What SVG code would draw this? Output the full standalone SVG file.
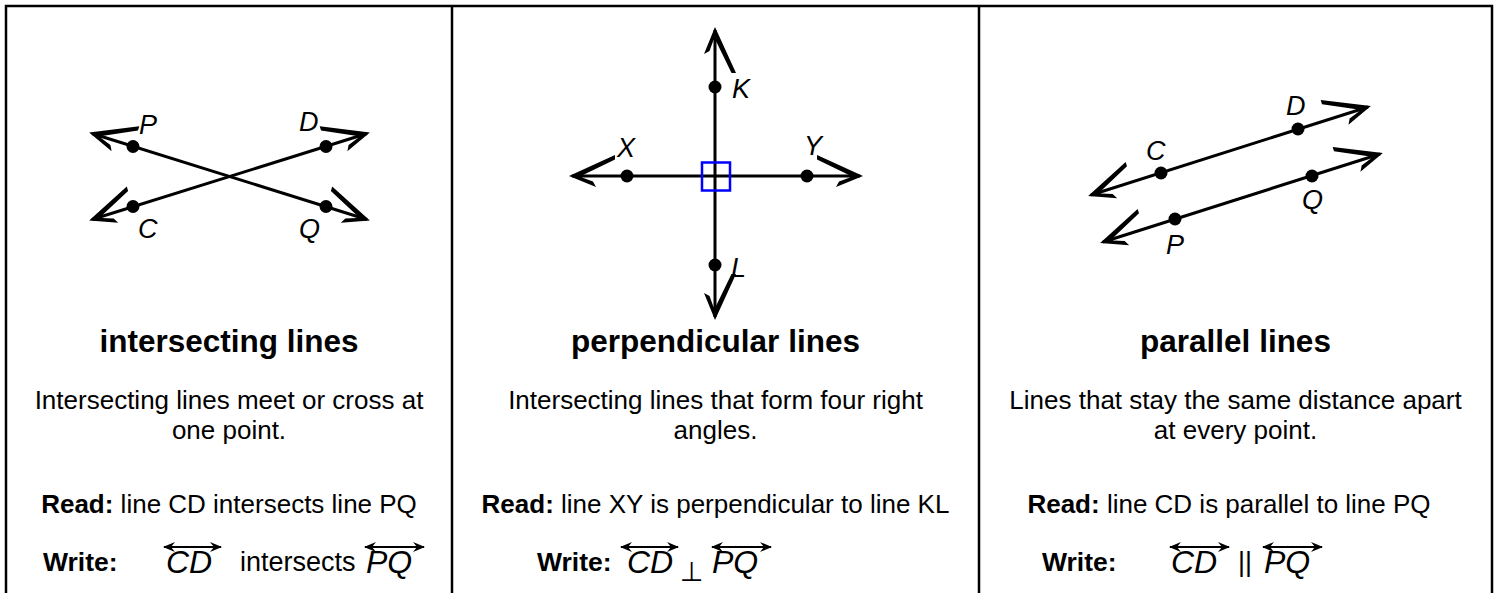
<svg xmlns="http://www.w3.org/2000/svg" width="1499" height="593" viewBox="0 0 1499 593">
<style>
.ln{stroke:#000;stroke-width:3;fill:none}
.frame{stroke:#000;stroke-width:2.5;fill:none}
.dot{fill:#000}
.lbl{font-family:"Liberation Sans",Arial,sans-serif;font-style:italic;font-size:27px;fill:#000}
.title{font-family:"Liberation Sans",Arial,sans-serif;font-weight:bold;font-size:31.5px;fill:#000;text-anchor:middle}
.body{font-family:"Liberation Sans",Arial,sans-serif;font-size:26px;fill:#000;text-anchor:middle}
.b{font-weight:bold}
.wr{font-family:"Liberation Sans",Arial,sans-serif;font-weight:bold;font-size:26.5px;fill:#000}
.sym{font-family:"Liberation Sans",Arial,sans-serif;font-style:italic;font-size:32px;fill:#000}
.txt{font-family:"Liberation Sans",Arial,sans-serif;font-size:27px;fill:#000}
.ov{stroke:#000;stroke-width:2;fill:none;marker-start:url(#sm);marker-end:url(#sm)}
</style>
<defs>
<path id="hL" d="M3,0 L-43,-21 L-43,-16.5 L-10,-0.5 L-10,1.5 L-21,5.5 L-24,11 Z" fill="#000"/>
<path id="hR" d="M3,0 L-43,21 L-43,16.5 L-10,0.5 L-10,-1.5 L-21,-5.5 L-24,-11 Z" fill="#000"/>
<marker id="sm" viewBox="-12 -6 14 12" refX="0" refY="0" markerWidth="14" markerHeight="12" markerUnits="userSpaceOnUse" orient="auto-start-reverse">
<path d="M1,0 L-11,-5 L-7,0 L-11,5 Z" fill="#000"/>
</marker>
</defs>

<g id="frame">
<path class="frame" d="M6,600 V6 H1492 V600"/>
<line class="frame" x1="452" y1="6" x2="452" y2="600"/>
<line class="frame" x1="979" y1="6" x2="979" y2="600"/>
</g>

<g id="connectors">
<line class="ln" x1="92" y1="133.5" x2="367" y2="219.5"/>
<line class="ln" x1="92" y1="219.5" x2="367" y2="133.5"/>
<use href="#hR" transform="translate(92,133.5) rotate(197.37)"/>
<use href="#hL" transform="translate(367,219.5) rotate(17.37)"/>
<use href="#hR" transform="translate(92,219.5) rotate(162.63)"/>
<use href="#hL" transform="translate(367,133.5) rotate(-17.37)"/>

<line class="ln" x1="572" y1="176" x2="860" y2="176"/>
<line class="ln" x1="715" y1="30" x2="715" y2="317"/>
<use href="#hR" transform="translate(572,176) rotate(180)"/>
<use href="#hL" transform="translate(860,176)"/>
<use href="#hR" transform="translate(715,30) rotate(-90)"/>
<use href="#hL" transform="translate(715,317) rotate(90)"/>

<line class="ln" x1="1091" y1="195" x2="1368" y2="107"/>
<line class="ln" x1="1103" y1="242" x2="1380" y2="154"/>
<use href="#hR" transform="translate(1091,195) rotate(162.38)"/>
<use href="#hL" transform="translate(1368,107) rotate(-17.62)"/>
<use href="#hR" transform="translate(1103,242) rotate(162.38)"/>
<use href="#hL" transform="translate(1380,154) rotate(-17.62)"/>
</g>

<g id="intersecting">
<circle class="dot" cx="133" cy="146.5" r="6.5"/>
<circle class="dot" cx="326" cy="146.5" r="6.5"/>
<circle class="dot" cx="133" cy="206.5" r="6.5"/>
<circle class="dot" cx="326" cy="206.5" r="6.5"/>
<text class="lbl" x="139" y="134">P</text>
<text class="lbl" x="299" y="131">D</text>
<text class="lbl" x="138" y="238">C</text>
<text class="lbl" x="299" y="238">Q</text>
<text class="title" x="229" y="352">intersecting lines</text>
<text class="body" x="229" y="409">Intersecting lines meet or cross at</text>
<text class="body" x="229" y="439">one point.</text>
<text class="body" x="229" y="513"><tspan class="b">Read:</tspan> line CD intersects line PQ</text>
<text class="wr" x="43" y="571">Write:</text>
<line class="ov" x1="164" y1="547" x2="221" y2="547"/>
<text class="sym" x="166" y="573">CD</text>
<text class="txt" x="240" y="571">intersects</text>
<line class="ov" x1="365" y1="547" x2="424" y2="547"/>
<text class="sym" x="366" y="573">PQ</text>
</g>

<g id="perpendicular">
<rect x="702" y="162.5" width="28" height="28" fill="none" stroke="#0000ff" stroke-width="2.5"/>
<circle class="dot" cx="715" cy="87" r="6.5"/>
<circle class="dot" cx="627" cy="176" r="6.5"/>
<circle class="dot" cx="807" cy="176" r="6.5"/>
<circle class="dot" cx="715" cy="265" r="6.5"/>
<text class="lbl" x="732" y="98">K</text>
<text class="lbl" x="617" y="157">X</text>
<text class="lbl" x="804" y="155">Y</text>
<text class="lbl" x="731" y="277">L</text>
<text class="title" x="715.5" y="352">perpendicular lines</text>
<text class="body" x="715.5" y="409">Intersecting lines that form four right</text>
<text class="body" x="715.5" y="439">angles.</text>
<text class="body" x="715.5" y="513"><tspan class="b">Read:</tspan> line XY is perpendicular to line KL</text>
<text class="wr" x="537" y="571">Write:</text>
<line class="ov" x1="621" y1="547" x2="678" y2="547"/>
<text class="sym" x="627" y="573">CD</text>
<text x="680" y="581" font-family="DejaVu Sans, sans-serif" font-size="27" fill="#000">⊥</text>
<line class="ov" x1="712" y1="547" x2="771" y2="547"/>
<text class="sym" x="712" y="573">PQ</text>
</g>

<g id="parallel">
<circle class="dot" cx="1298" cy="129" r="6.5"/>
<circle class="dot" cx="1161" cy="173" r="6.5"/>
<circle class="dot" cx="1312" cy="176" r="6.5"/>
<circle class="dot" cx="1175" cy="219" r="6.5"/>
<text class="lbl" x="1286" y="115">D</text>
<text class="lbl" x="1146" y="160">C</text>
<text class="lbl" x="1302" y="209">Q</text>
<text class="lbl" x="1166" y="254">P</text>
<text class="title" x="1235.5" y="352">parallel lines</text>
<text class="body" x="1235.5" y="409">Lines that stay the same distance apart</text>
<text class="body" x="1235.5" y="439">at every point.</text>
<text class="body" x="1229" y="513"><tspan class="b">Read:</tspan> line CD is parallel to line PQ</text>
<text class="wr" x="1042" y="571">Write:</text>
<line class="ov" x1="1170" y1="547" x2="1229" y2="547"/>
<text class="sym" x="1171" y="573">CD</text>
<text class="txt" x="1238" y="571">||</text>
<line class="ov" x1="1263" y1="547" x2="1322" y2="547"/>
<text class="sym" x="1264" y="573">PQ</text>
</g>
</svg>
